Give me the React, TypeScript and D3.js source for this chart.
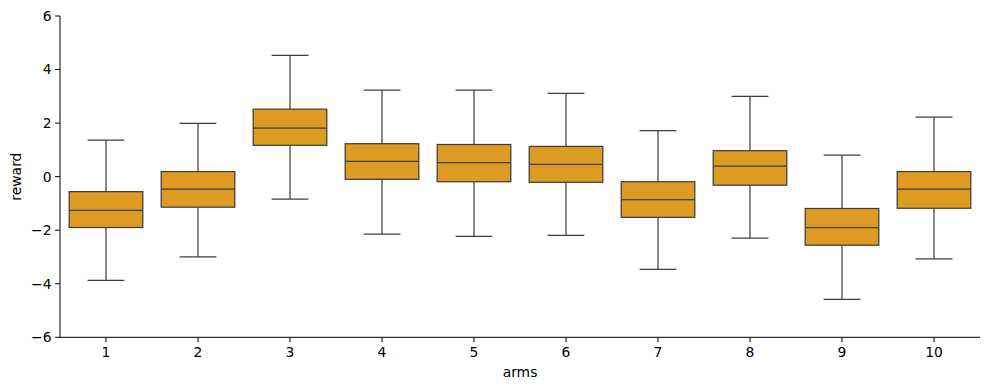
import React from 'react';
import * as d3 from 'd3';

// box stats, one entry per arm
const arms = ['1', '2', '3', '4', '5', '6', '7', '8', '9', '10'];
const whiskerLow = [-3.87, -3.0, -0.84, -2.15, -2.23, -2.19, -3.46, -2.3, -4.58, -3.07];
const q1 = [-1.9, -1.14, 1.17, -0.1, -0.19, -0.21, -1.52, -0.32, -2.56, -1.18];
const median = [-1.26, -0.47, 1.81, 0.57, 0.52, 0.46, -0.86, 0.39, -1.9, -0.47];
const q3 = [-0.56, 0.19, 2.52, 1.23, 1.2, 1.13, -0.19, 0.97, -1.19, 0.19];
const whiskerHigh = [1.36, 1.99, 4.53, 3.23, 3.23, 3.11, 1.72, 3.0, 0.8, 2.22];
const yTicks = [-6, -4, -2, 0, 2, 4, 6];

const W = 989;
const H = 390;
const margin = { top: 16, right: 9, bottom: 53, left: 60 };

const FILL = '#de9b23';
const LINE = '#3f3f3f';
const FONT = 'DejaVu Sans, sans-serif';
const FS = 13.9;

const App: React.FC = () => {
  const x = d3.scaleBand<string>()
    .domain(arms)
    .range([margin.left, W - margin.right])
    .paddingInner(0)
    .paddingOuter(0);

  const y = d3.scaleLinear()
    .domain([-6, 6])
    .range([H - margin.bottom + 0.3, margin.top]);

  const bw = x.bandwidth();
  const boxW = bw * 0.8;
  const capW = boxW * 0.5;
  const fmt = (v: number) => (v < 0 ? '\u2212' + Math.abs(v) : String(v));

  const bottom = y(-6);

  return (
    <svg width={W} height={H} style={{ position: 'absolute', left: 0, top: 0 }}>
      <rect width={W} height={H} fill="white" />

      {arms.map((a, i) => {
        const cx = (x(a) as number) + bw / 2;
        return (
          <g key={a}>
            <line x1={cx} x2={cx} y1={y(q3[i])} y2={y(whiskerHigh[i])} stroke={LINE} strokeWidth={1.25} />
            <line x1={cx} x2={cx} y1={y(q1[i])} y2={y(whiskerLow[i])} stroke={LINE} strokeWidth={1.25} />
            <line x1={cx - capW / 2} x2={cx + capW / 2} y1={y(whiskerHigh[i])} y2={y(whiskerHigh[i])} stroke={LINE} strokeWidth={1.25} />
            <line x1={cx - capW / 2} x2={cx + capW / 2} y1={y(whiskerLow[i])} y2={y(whiskerLow[i])} stroke={LINE} strokeWidth={1.25} />
            <rect
              x={cx - boxW / 2}
              y={y(q3[i])}
              width={boxW}
              height={y(q1[i]) - y(q3[i])}
              fill={FILL}
              stroke={LINE}
              strokeWidth={1.25}
            />
            <line x1={cx - boxW / 2} x2={cx + boxW / 2} y1={y(median[i])} y2={y(median[i])} stroke={LINE} strokeWidth={1.25} />
          </g>
        );
      })}

      {/* left spine + ticks */}
      <line x1={margin.left} x2={margin.left} y1={margin.top} y2={bottom} stroke="black" strokeWidth={1} />
      {yTicks.map(t => (
        <g key={t}>
          <line x1={margin.left - 4.9} x2={margin.left} y1={y(t)} y2={y(t)} stroke="black" strokeWidth={1} />
          <text x={margin.left - 8.5} y={y(t)} dy="0.35em" textAnchor="end" fontFamily={FONT} fontSize={FS} fill="black">
            {fmt(t)}
          </text>
        </g>
      ))}

      {/* bottom spine + ticks */}
      <line x1={margin.left} x2={W - margin.right} y1={bottom} y2={bottom} stroke="black" strokeWidth={1} />
      {arms.map(a => {
        const cx = (x(a) as number) + bw / 2;
        return (
          <g key={a}>
            <line x1={cx} x2={cx} y1={bottom} y2={bottom + 4.9} stroke="black" strokeWidth={1} />
            <text x={cx} y={bottom + 19.5} textAnchor="middle" fontFamily={FONT} fontSize={FS} fill="black">
              {a}
            </text>
          </g>
        );
      })}

      <text x={(margin.left + W - margin.right) / 2} y={377} textAnchor="middle" fontFamily={FONT} fontSize={FS} fill="black">
        arms
      </text>
      <text
        transform={`translate(21, ${(margin.top + bottom) / 2}) rotate(-90)`}
        textAnchor="middle"
        fontFamily={FONT}
        fontSize={FS}
        fill="black"
      >
        reward
      </text>
    </svg>
  );
};

export default App;
